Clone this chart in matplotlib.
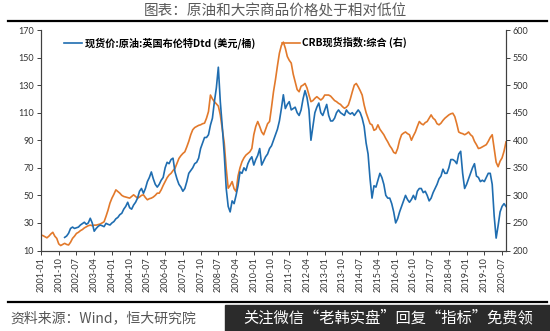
import numpy as np
import matplotlib
matplotlib.use('Agg')
import matplotlib.pyplot as plt

plt.rcParams['font.family'] = ['Lato', 'Noto Sans CJK SC', 'DejaVu Sans']
plt.rcParams['axes.unicode_minus'] = False

# monthly values, 2001-01 .. 2020-09
crb = [228, 227, 225, 223, 226, 230, 233, 226, 222, 212, 209, 211,   # 2001
       213, 211, 210, 215, 222, 226, 231, 233, 236, 238, 241, 243,   # 2002
       245, 246, 245, 246, 246, 247, 248, 250, 252, 262, 273, 286,   # 2003
       295, 302, 310, 307, 304, 300, 298, 297, 296, 295, 298, 301,   # 2004
       298, 295, 297, 300, 301, 296, 292, 294, 295, 297, 300, 304,   # 2005
       304, 310, 318, 325, 332, 337, 340, 345, 349, 358, 367, 372,   # 2006
       376, 379, 388, 398, 410, 419, 423, 425, 427, 428, 430, 431,   # 2007
       440, 452, 482, 475, 470, 466, 462, 446, 420, 395, 349, 313,   # 2008
       318, 325, 312, 307, 335, 350, 361, 368, 373, 376, 379, 385,   # 2009
       410, 425, 434, 425, 415, 410, 420, 430, 434, 460, 488, 510,   # 2010
       535, 558, 572, 578, 567, 552, 545, 540, 520, 506, 492, 488,   # 2011
       498, 500, 503, 495, 482, 470, 472, 476, 479, 476, 473, 476,   # 2012
       482, 482, 482, 480, 476, 472, 470, 467, 465, 461, 458, 460,   # 2013
       464, 475, 488, 500, 503, 497, 490, 482, 464, 450, 440, 430,   # 2014
       428, 418, 420, 428, 420, 415, 410, 403, 397, 390, 385, 378,   # 2015
       376, 385, 400, 410, 413, 415, 412, 410, 400, 408, 415, 425,   # 2016
       434, 430, 428, 432, 434, 440, 446, 440, 437, 430, 428, 431,   # 2017
       436, 440, 443, 446, 448, 449, 443, 430, 415, 413, 412, 410,   # 2018
       412, 415, 410, 407, 398, 392, 385, 386, 388, 390, 392, 398,   # 2019
       405, 410, 385, 360, 352, 362, 368, 380, 397]                  # 2020

brent = [np.nan] * 12 + [
    19.5, 20.5, 22.5, 26, 27, 26, 26.5, 27, 28.5, 29.5, 30.5, 29,    # 2002
    30, 33.4, 30, 24, 26, 27.5, 28.5, 28, 27.3, 29.7, 29, 28.5,      # 2003
    30, 31, 33, 34, 36, 37, 40, 42, 45, 41, 40, 43,                  # 2004
    45, 48, 53, 55, 51.5, 55, 60, 63, 67, 62, 58, 56,                # 2005
    58, 61, 63, 70, 74, 73, 76, 77, 67, 62, 58, 56,                  # 2006
    53, 55, 60, 66, 68, 70, 73, 74, 77, 84, 88, 92,                  # 2007
    92, 94, 101, 106, 118, 128, 143, 118, 100, 80, 55, 42,           # 2008
    38, 46, 44, 50, 57, 67, 66, 70, 68, 73, 76, 78,                  # 2009
    72, 76, 79, 84, 72, 75, 78, 80, 84, 86, 90, 94,                  # 2010
    98, 104, 113, 123, 113, 116, 118, 112, 113, 114, 110, 108,       # 2011
    112, 120, 126, 121, 112, 90, 100, 110, 114, 117, 110, 108,       # 2012
    112, 116, 108, 104, 104, 106, 110, 112, 110, 109, 108, 112,      # 2013
    110, 109, 110, 108, 110, 112, 110, 106, 100, 88, 80, 62,         # 2014
    48, 57, 56, 61, 66, 63, 58, 50, 48, 48, 44, 38,                  # 2015
    30, 33, 38, 42, 46, 50, 47, 45, 47, 50, 47, 53,                  # 2016
    55, 55, 52, 53, 50, 46, 48, 52, 55, 58, 62, 64,                  # 2017
    69, 66, 66, 70, 76, 76, 75, 73, 80, 82, 66, 55,                  # 2018
    58, 62, 66, 70, 73, 64, 63, 60, 61, 60, 63, 66,                  # 2019
    66, 58, 35, 19, 28, 38, 42, 44, 42]                              # 2020

months = np.arange(len(crb))
tick_pos = np.arange(0, 235, 9)
tick_labels = ['%d-%02d' % (2001 + p // 12, p % 12 + 1) for p in tick_pos]

blue = '#1f6db0'
orange = '#e2792b'
cjk = ['Noto Sans CJK SC', 'DejaVu Sans']

fig = plt.figure(figsize=(5.5, 3.31), dpi=100)
ax = fig.add_axes([41/550, 1-250.5/331, (506-41)/550, (250.5-30)/331])
ax2 = ax.twinx()

l1, = ax.plot(months, brent, color=blue, lw=1.2)
l2, = ax2.plot(months, crb, color=orange, lw=1.2)
ax.set_zorder(ax2.get_zorder() + 1)
ax.patch.set_visible(False)

ax.set_xlim(0, 236)
ax.set_ylim(10, 170)
ax.set_yticks(np.arange(10, 171, 20))
ax2.set_ylim(200, 600)
ax2.set_yticks(np.arange(200, 601, 50))
ax.set_xticks(tick_pos)
ax.set_xticklabels(tick_labels, rotation=90)

for a in (ax, ax2):
    a.spines['top'].set_visible(False)
    for s in ('left', 'right', 'bottom'):
        a.spines[s].set_color('#404040')
        a.spines[s].set_linewidth(0.8)
    a.tick_params(labelsize=6.5, colors='#404040', length=3, width=0.7,
                  labelcolor='#333333', pad=2)

fig.legend([l1, l2], ['现货价:原油:英国布伦特Dtd (美元/桶)', 'CRB现货指数:综合 (右)'],
           loc='upper left', bbox_to_anchor=(55/550, 1-28/331), ncol=2,
           frameon=False, handlelength=1.8, columnspacing=2.6, handletextpad=0.25,
           prop={'family': cjk, 'weight': 'bold', 'size': 7.3})

fig.text(0.5, 1-11/331, '图表：原油和大宗商品价格处于相对低位', ha='center', va='center',
         fontsize=10.5, color='#595959', family=cjk)
fig.add_artist(plt.Line2D([8/550, 547/550], [1-20.5/331, 1-20.5/331], color='black', lw=1.6))
fig.add_artist(plt.Line2D([8/550, 547/550], [1-302/331, 1-302/331], color='black', lw=1.6))

fig.text(10/550, 1-318/331, '资料来源：Wind，恒大研究院', ha='left', va='center',
         fontsize=10, color='#555555', style='italic', family=cjk)

fig.patches.append(plt.Rectangle((225/550, 0), 325/550, 26/331, transform=fig.transFigure,
                                 color='#2b2b2b', zorder=5))
fig.text(388/550, 1-318/331, '关注微信“老韩实盘”回复“指标”免费领', ha='center', va='center',
         fontsize=11, color='white', zorder=6, family=cjk)

fig.savefig('out.png', dpi=100)
